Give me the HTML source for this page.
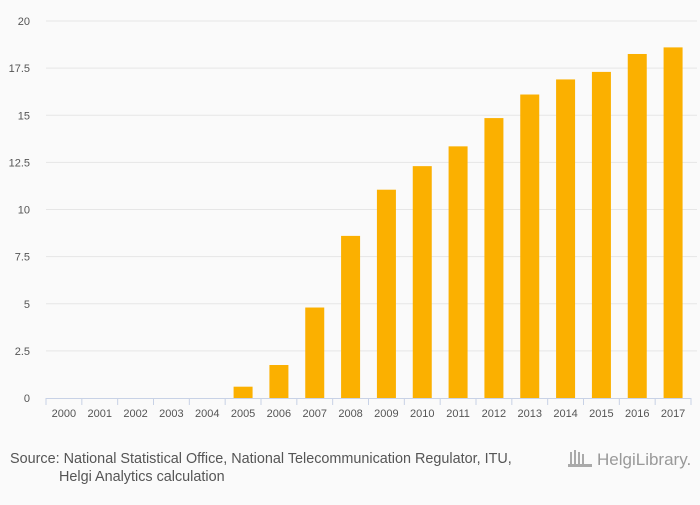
<!DOCTYPE html>
<html><head><meta charset="utf-8"><style>
body{margin:0;background:#fafafa;font-family:"Liberation Sans",sans-serif;}
svg text{font-family:"Liberation Sans",sans-serif;}
</style></head><body>
<svg width="700" height="500" xmlns="http://www.w3.org/2000/svg">
<rect width="700" height="500" fill="#fafafa"/>
<g id="grid"></g><g id="bars"></g><g id="xaxis"></g><g id="yaxis"></g>
<text x="10" y="463" font-size="14.4" fill="#555">Source: National Statistical Office, National Telecommunication Regulator, ITU,</text>
<text x="59" y="481" font-size="14.4" fill="#555">Helgi Analytics calculation</text>
<text x="597" y="465" font-size="17" fill="#999">HelgiLibrary.</text>
<g fill="#aaa"><rect x="570" y="452" width="2" height="14"/><rect x="574" y="450" width="2" height="16"/><rect x="578" y="452" width="2" height="14"/><rect x="582" y="454" width="2" height="12"/><rect x="568" y="464" width="24" height="3"/></g>
</svg>
<script>
const categories=["2000","2001","2002","2003","2004","2005","2006","2007","2008","2009","2010","2011","2012","2013","2014","2015","2016","2017"];
const values=[0,0,0,0,0,0.6,1.75,4.8,8.6,11.05,12.3,13.35,14.85,16.1,16.9,17.3,18.25,18.6];
const yTicks=[0,2.5,5,7.5,10,12.5,15,17.5,20];
const yTickLabels=["0","2.5","5","7.5","10","12.5","15","17.5","20"];
const NS="http://www.w3.org/2000/svg";
const x0=46,x1=691,yTop=21,yBot=398,yMax=20;
const band=(x1-x0)/categories.length;
const yS=v=>yBot-(v/yMax)*(yBot-yTop);
const xS=i=>x0+band*i;
function mk(t,a,p){const e=document.createElementNS(NS,t);for(const k in a)e.setAttribute(k,a[k]);p.appendChild(e);return e;}
const grid=document.getElementById('grid'),bars=document.getElementById('bars'),xa=document.getElementById('xaxis'),ya=document.getElementById('yaxis');
yTicks.forEach((v,i)=>{
 if(v>0){const l=mk('line',{x1:x0,x2:697,y1:yS(v),y2:yS(v),stroke:'#e6e6e6','stroke-width':1},grid);
 
 }
 const t=mk('text',{x:30,y:yS(v)+4,'font-size':11,fill:'#555','text-anchor':'end'},ya);t.textContent=yTickLabels[i];
 
 
});
categories.forEach((c,i)=>{
 const v=values[i];
 if(v>0){const b=mk('rect',{x:xS(i)+band/2-9.5,y:yS(v),width:19,height:yBot-yS(v),fill:'#fbb000'},bars);
 
 }
 const tk=mk('line',{x1:xS(i),x2:xS(i),y1:yBot,y2:yBot+7,stroke:'#c8d2e6'},xa);
 
 
 const t=mk('text',{x:xS(i)+band/2,y:417,'font-size':11,fill:'#555','text-anchor':'middle'},xa);t.textContent=c;
 
 
});
const tkl=mk('line',{x1:x1,x2:x1,y1:yBot,y2:yBot+7,stroke:'#c8d2e6'},xa);


const ax=mk('line',{x1:x0,x2:x1,y1:yBot+0.5,y2:yBot+0.5,stroke:'#c8d2e6'},xa);


</script>
</body></html>
